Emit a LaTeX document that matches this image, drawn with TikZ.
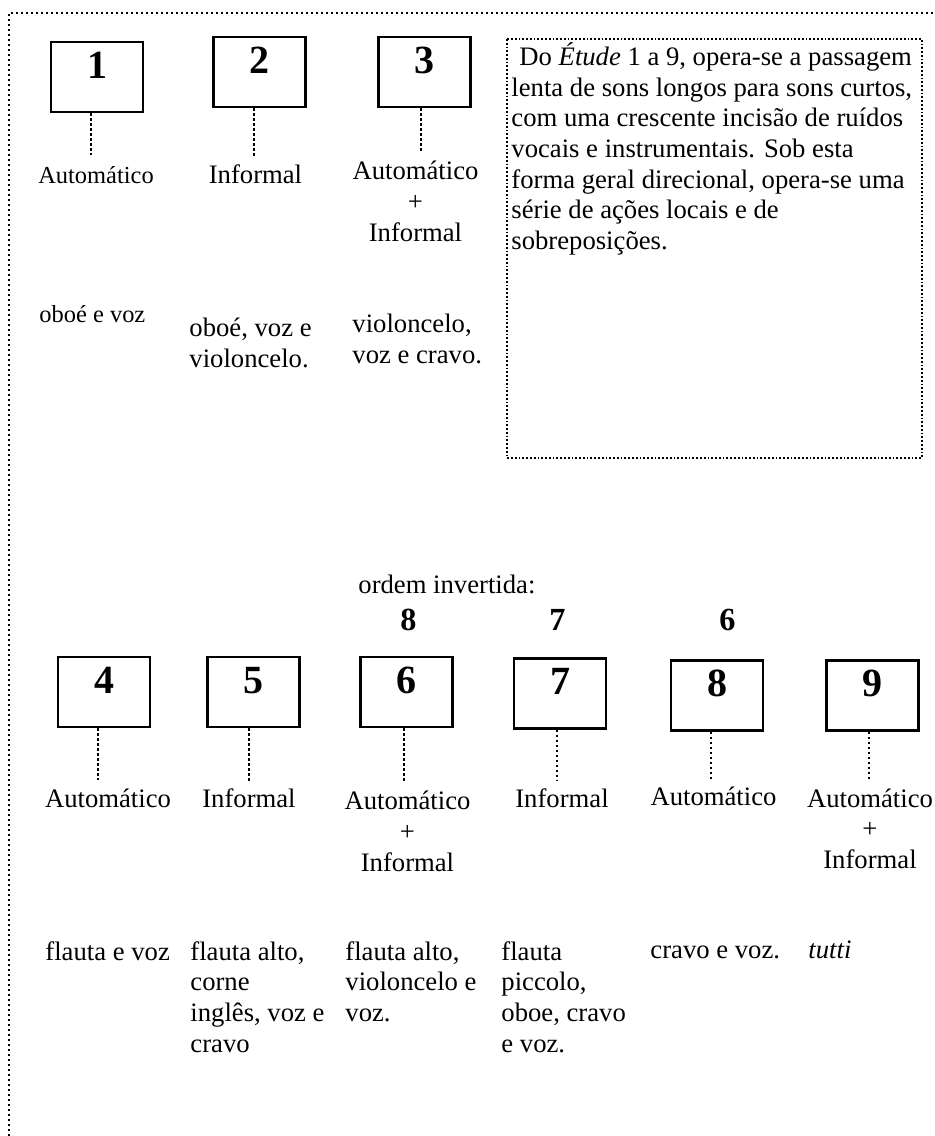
\documentclass[tikz,border=0pt]{standalone}
\usepackage{fontspec}
\setmainfont{Liberation Serif}
\usetikzlibrary{positioning}

\begin{document}
\begin{tikzpicture}[
    x=0.45pt, y=-0.45pt,
    every node/.style={font=\fontsize{12}{13.8}\selectfont, inner sep=0pt},
    etudebox/.style={rectangle, draw=black, line width=1.1pt,
        minimum width=41.4pt, text height=16.2pt, text depth=15.3pt,
        font=\fontsize{18}{20}\selectfont\bfseries},
    modelabel/.style={anchor=base, align=center},
    smallmode/.style={modelabel, font=\fontsize{11}{12.6}\selectfont},
    instrtext/.style={anchor=base west, align=left},
    ordernum/.style={anchor=base, font=\fontsize{14.5}{16}\selectfont\bfseries},
    stemline/.style={line width=0.7pt, dash pattern=on 1.1pt off 1.15pt},
    outerline/.style={line width=0.8pt, dash pattern=on 1pt off 1.25pt},
    notebox/.style={line width=0.6pt, dash pattern=on 0.8pt off 0.9pt},
]
\useasboundingbox (0,0) rectangle (934,1136);

% === OUTER FRAME ===
\draw[outerline] (9,1136) -- (9,13) -- (934,13);

% === ETUDES 1-3 (top row) ===
\node[etudebox] (b1) at (97,77) {1};
\node[etudebox] (b2) at (259.5,72) {2};
\node[etudebox] (b3) at (424.5,72) {3};

% multi-line nodes sit on the baseline of their last line
\node[smallmode] (l1) at (96,183) {Automático};
\node[modelabel] (l2) at (255.5,183) {Informal};
\node[modelabel] (l3) at (415.5,241) {Automático\\+\\Informal};

\coordinate (s1) at (91,155);
\coordinate (s2) at (254,157);
\coordinate (s3) at (421,152);
\draw[stemline] (b1.south -| s1) -- (s1);
\draw[stemline] (b2.south -| s2) -- (s2);
\draw[stemline] (b3.south -| s3) -- (s3);

% instruments
\node[instrtext, font=\fontsize{11}{12.6}\selectfont] (i1) at (39,322) {oboé e voz};
\node[instrtext] (i2) at (189,367.5) {oboé, voz e\\violoncelo.};
\node[instrtext] (i3) at (352,363.5) {violoncelo,\\voz e cravo.};

% === NOTE BOX ===
\draw[notebox] (507,39) rectangle (922,458);
\node[instrtext] (note) at (511,249.5) {\hspace*{3.6pt}Do \textit{Étude} 1 a 9, opera-se a passagem\\
    lenta de sons longos para sons curtos,\\
    com uma crescente incisão de ruídos\\
    vocais e instrumentais. Sob esta\\
    forma geral direcional, opera-se uma\\
    série de ações locais e de\\
    sobreposições.};

% === ETUDES 4-9 (bottom row) ===
\node[instrtext] (order) at (358,593) {ordem invertida:};
\node[ordernum] (o6) at (408.5,630) {8};
\node[ordernum] (o7) at (557.5,630) {7};
\node[ordernum] (o8) at (727.5,630) {6};

\node[etudebox] (b4) at (104,692) {4};
\node[etudebox] (b5) at (253.5,692) {5};
\node[etudebox] (b6) at (406.5,692) {6};
\node[etudebox] (b7) at (560,693.5) {7};
\node[etudebox] (b8) at (717,695.5) {8};
\node[etudebox] (b9) at (872.5,695.5) {9};

\node[modelabel] (l4) at (108,807) {Automático};
\node[modelabel] (l5) at (249,807) {Informal};
\node[modelabel] (l6) at (407.5,871) {Automático\\+\\Informal};
\node[modelabel] (l7) at (562,807) {Informal};
\node[modelabel] (l8) at (713.5,805) {Automático};
\node[modelabel] (l9) at (870,868.5) {Automático\\+\\Informal};

\coordinate (s4) at (98,780);
\coordinate (s5) at (249,783);
\coordinate (s6) at (404,783);
\coordinate (s7) at (557,780);
\coordinate (s8) at (711,780);
\coordinate (s9) at (869,780);
\draw[stemline] (b4.south -| s4) -- (s4);
\draw[stemline] (b5.south -| s5) -- (s5);
\draw[stemline] (b6.south -| s6) -- (s6);
\draw[stemline] (b7.south -| s7) -- (s7);
\draw[stemline] (b8.south -| s8) -- (s8);
\draw[stemline] (b9.south -| s9) -- (s9);

% instruments
\node[instrtext] (i4) at (45,960) {flauta e voz};
\node[instrtext] (i5) at (190,1052) {flauta alto,\\corne\\inglês, voz e\\cravo};
\node[instrtext] (i6) at (345,1021.5) {flauta alto,\\violoncelo e\\voz.};
\node[instrtext] (i7) at (501,1052) {flauta\\piccolo,\\oboe, cravo\\e voz.};
\node[instrtext] (i8) at (650,958) {cravo e voz.};
\node[instrtext] (i9) at (808,958) {\textit{tutti}};

\end{tikzpicture}
\end{document}
